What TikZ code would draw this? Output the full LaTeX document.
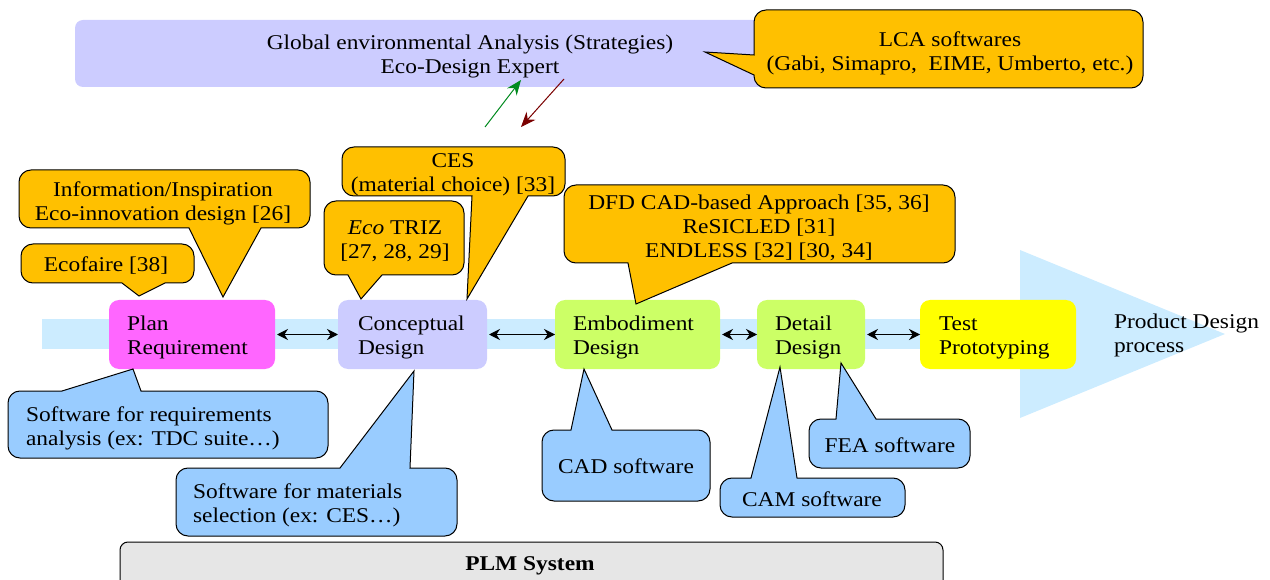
\documentclass[tikz,border=0pt]{standalone}
\usepackage{fontspec}
\setmainfont[FakeStretch=1.115]{Liberation Serif}
\usetikzlibrary{arrows.meta}
\tikzset{
  x=1pt,y=-1pt,
  orangecall/.style={fill=callorange,draw=black,line width=1pt,rounded corners=12pt,line join=miter},
  bluecall/.style={fill=callblue,draw=black,line width=1pt,line join=miter},
  label/.style={inner sep=0pt,outer sep=0pt,align=center,font=\fontsize{21}{24}\selectfont},
  proc/.style={rectangle,rounded corners=10pt,minimum height=69pt,outer sep=0pt,inner ysep=0pt,align=left,anchor=north west,font=\fontsize{21}{24}\selectfont},
  link/.style={{Stealth[length=11pt,width=11pt]}-{Stealth[length=11pt,width=11pt]},line width=1.2pt,black},
  up/.style={-{Stealth[length=15pt,width=12pt]},line width=1pt}
}
\newcommand{\toppad}{\rule{0pt}{20pt}}
\definecolor{callorange}{HTML}{FFC000}
\definecolor{callblue}{HTML}{99CCFF}
\definecolor{lightband}{HTML}{CCECFF}
\definecolor{lilac}{HTML}{CCCCFF}
\definecolor{lime}{HTML}{CCFF66}
\definecolor{pinkbox}{HTML}{FF66FF}
\definecolor{yellowbox}{HTML}{FFFF00}
\definecolor{plmgray}{HTML}{E6E6E6}
\definecolor{arrowgreen}{HTML}{008A1E}
\definecolor{arrowred}{HTML}{7A0000}
\begin{document}
\begin{tikzpicture}
\useasboundingbox (0,0) rectangle (1270,580);
\clip (0,0) rectangle (1270,580);
% process band
\fill[lightband] (42,319) rectangle (1022,349);
\fill[lightband] (1020,250) -- (1225,334) -- (1020,418) -- cycle;
% top band
\fill[lilac,rounded corners=8pt] (75,20) rectangle (790,87);
% PLM
\draw[fill=plmgray,line width=1pt,rounded corners=8pt] (120,542) rectangle (943,600);
% process boxes
\node[proc,fill=pinkbox,inner xsep=18pt,text width=130pt] (plan) at (109,300) {\toppad Plan\\Requirement};
\node[proc,fill=lilac,inner xsep=20pt,text width=109pt] (concept) at (338,300) {\toppad Conceptual\\Design};
\node[proc,fill=lime,inner xsep=18pt,text width=129pt] (embod) at (555,300) {\toppad Embodiment\\Design};
\node[proc,fill=lime,inner xsep=18pt,text width=72pt] (detail) at (757,300) {\toppad Detail\\Design};
\node[proc,fill=yellowbox,inner xsep=19pt,text width=118pt] (test) at (920,300) {\toppad Test\\Prototyping};
\draw[link] ([xshift=2pt]plan.east) -- (concept.west);
\draw[link] ([xshift=2pt]concept.east) -- (embod.west);
\draw[link] ([xshift=2pt]embod.east) -- (detail.west);
\draw[link] ([xshift=2pt]detail.east) -- (test.west);
% orange callouts
\draw[orangecall] (100,170) -- (310,170) -- (310,228) [sharp corners] -- (261,228) -- (223,297) -- (189,228) [rounded corners=12pt] -- (19,228) -- (19,170) -- cycle;
\draw[orangecall] (100,244) -- (194,244) -- (194,283) [sharp corners] -- (165,283) -- (139,296) -- (122,283) [rounded corners=12pt] -- (21,283) -- (21,244) -- cycle;
\draw[orangecall] (400,201) -- (464,201) -- (464,275) [sharp corners] -- (382,275) -- (361,299) -- (348,275) [rounded corners=12pt] -- (324,275) -- (324,201) -- cycle;
\draw[orangecall] (450,147) -- (565,147) -- (565,196) [sharp corners] -- (528,196) -- (467,299) -- (472,196) [rounded corners=12pt] -- (342,196) -- (342,147) -- cycle;
\draw[orangecall] (700,185) -- (955,185) -- (955,263) [sharp corners] -- (732,263) -- (636,304) -- (628,263) [rounded corners=12pt] -- (564,263) -- (564,185) -- cycle;
\draw[orangecall] (900,10) -- (1143,10) -- (1143,88) -- (754,88) [sharp corners] -- (754,75) -- (705,52) -- (754,55) [rounded corners=12pt] -- (754,10) -- cycle;
% blue callouts
\draw[bluecall] (133,369) -- (141,391) [rounded corners=12pt] -- (328,391) -- (328,458) -- (8,458) -- (8,391) [sharp corners] -- (62,391) -- cycle;
\draw[bluecall] (414,371) -- (410,468) [rounded corners=12pt] -- (457,468) -- (457,536) -- (176,536) -- (176,468) [sharp corners] -- (340,468) -- cycle;
\draw[bluecall] (584,369) -- (612,430) [rounded corners=12pt] -- (710,430) -- (710,501) -- (542,501) -- (542,430) [sharp corners] -- (571,430) -- cycle;
\draw[bluecall] (780,367) -- (797,478) [rounded corners=12pt] -- (905,478) -- (905,517) -- (720,517) -- (720,478) [sharp corners] -- (751,478) -- cycle;
\draw[bluecall] (841,363) -- (876,419) [rounded corners=12pt] -- (970,419) -- (970,468) -- (809,468) -- (809,419) [sharp corners] -- (836,419) -- cycle;
% labels
\node[label] (global) at (470,56) {Global environmental Analysis (Strategies)\\Eco-Design Expert};
\node[label] (lca) at (950,53) {LCA softwares\\(Gabi, Simapro,\ \ EIME, Umberto, etc.)};
\node[label] (info) at (163,203) {Information/Inspiration\\Eco-innovation design [26]};
\node[label] (ecof) at (106,266) {Ecofaire [38]};
\node[label] (triz) at (395,241) {\textit{Eco} TRIZ\\{[27, 28, 29]}};
\node[label] (ces) at (453,175) {CES\\(material choice) [33]};
\node[label] (dfd) at (759,228) {DFD CAD-based Approach [35, 36]\\ReSICLED [31]\\ENDLESS [32] [30, 34]};
\node[label,align=left,anchor=west] (req) at (26,428) {Software for requirements\\analysis (ex: TDC suite\ldots)};
\node[label,align=left,anchor=west] (mat) at (193,505) {Software for materials\\selection (ex: CES\ldots)};
\node[label] (cad) at (626,466) {CAD software};
\node[label] (cam) at (812,499) {CAM software};
\node[label] (fea) at (890,445) {FEA software};
\node[label,align=left,anchor=west] (pdp) at (1114,335) {Product Design\\process};
\node[label,font=\fontsize{21}{24}\selectfont\bfseries] (plm) at (530,566) {PLM System};
% exchange arrows
\coordinate (gs) at (485,127);
\coordinate (gt) at (521,80);
\coordinate (rs) at (564,79);
\coordinate (rt) at (521,127);
\draw[up,arrowgreen] (gs) -- (gt);
\draw[up,arrowred] (rs) -- (rt);
\end{tikzpicture}
\end{document}
